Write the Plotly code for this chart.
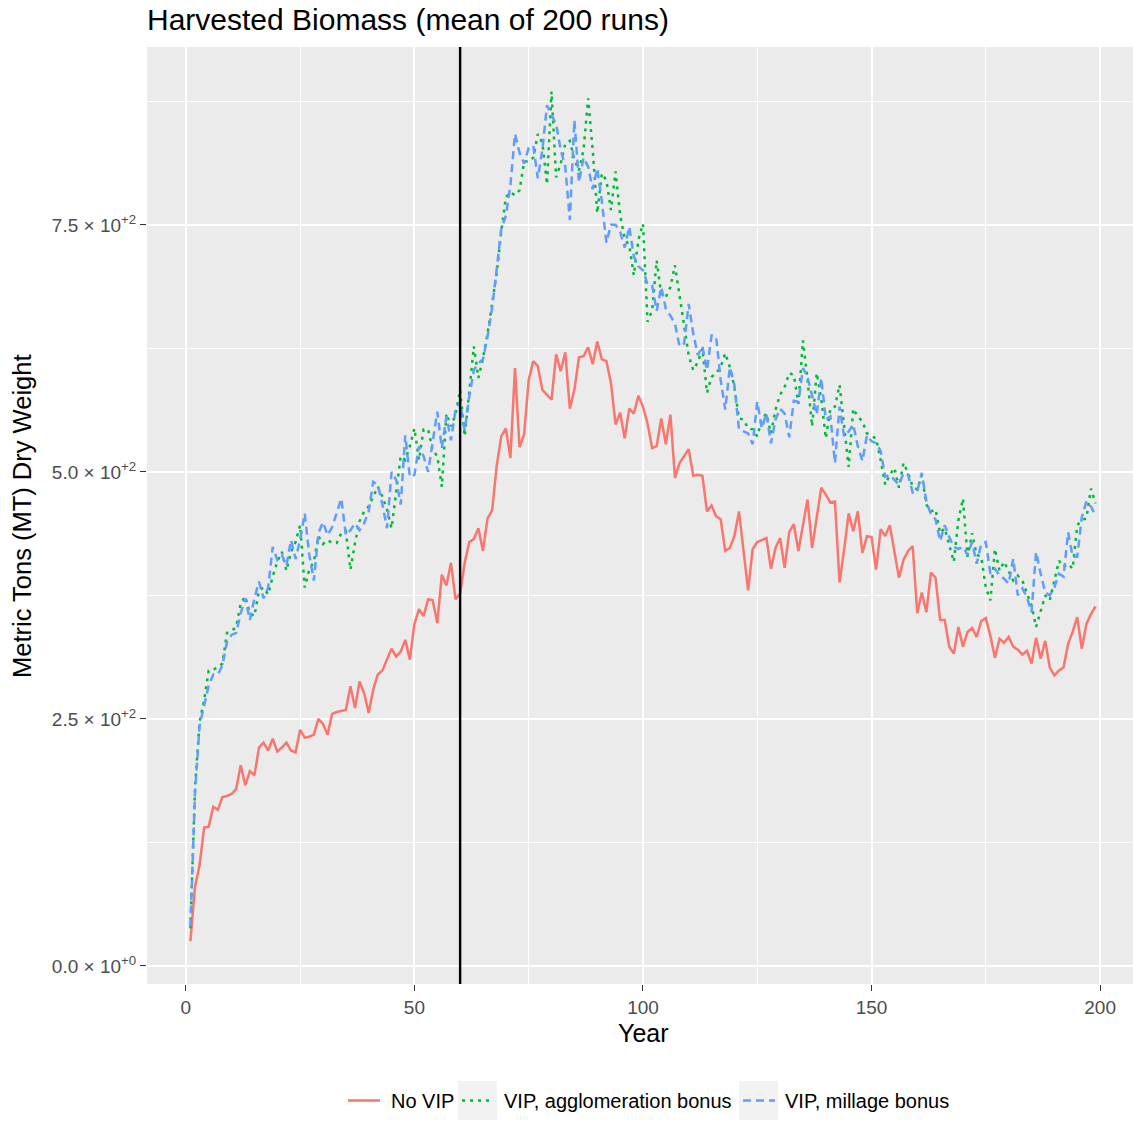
import plotly.graph_objects as go

# Simulation years
years = list(range(1, 200))

# Mean harvested biomass (MT dry weight) per scenario
no_vip = [
    25, 80, 102, 140, 141, 161, 158, 171, 172, 174, 179, 203, 183, 197, 193, 221, 226, 218, 230, 217,
    221, 226, 218, 216, 239, 231, 232, 234, 250, 245, 234, 255, 257, 258, 259, 283, 261, 288, 276, 256,
    280, 295, 299, 310, 321, 313, 318, 330, 310, 346, 361, 354, 371, 370, 347, 396, 385, 408, 371, 377,
    408, 429, 432, 443, 420, 453, 461, 506, 536, 544, 514, 605, 525, 538, 593, 612, 607, 583, 578, 573,
    619, 602, 621, 564, 583, 616, 617, 626, 609, 632, 614, 612, 590, 548, 560, 534, 564, 559, 577, 566,
    549, 524, 526, 554, 528, 558, 494, 509, 516, 523, 496, 497, 496, 460, 466, 455, 452, 420, 423, 435,
    460, 418, 380, 422, 429, 431, 433, 402, 423, 433, 403, 439, 447, 420, 447, 472, 423, 453, 484, 477,
    469, 470, 388, 421, 458, 440, 460, 418, 435, 434, 401, 442, 435, 446, 418, 393, 411, 420, 425, 357,
    378, 358, 398, 393, 350, 350, 323, 316, 343, 323, 338, 342, 333, 349, 352, 334, 312, 331, 327, 333,
    323, 320, 315, 319, 306, 332, 311, 329, 302, 294, 299, 302, 326, 338, 353, 321, 346, 356, 364,
]

vip_agglomeration = [
    38, 180, 247, 269, 299, 300, 302, 306, 337, 339, 343, 367, 374, 357, 354, 380, 383, 376, 394, 409,
    419, 400, 419, 429, 446, 383, 401, 409, 435, 427, 431, 428, 428, 438, 440, 401, 428, 450, 460, 465,
    475, 485, 475, 462, 443, 482, 516, 512, 526, 544, 512, 543, 543, 522, 516, 485, 559, 546, 558, 583,
    536, 581, 627, 595, 615, 640, 673, 701, 743, 778, 783, 780, 785, 814, 814, 818, 842, 833, 791, 885,
    798, 812, 832, 835, 816, 805, 826, 878, 826, 762, 802, 795, 765, 804, 760, 736, 729, 699, 735, 751,
    652, 663, 714, 679, 677, 687, 709, 677, 650, 618, 603, 611, 625, 580, 596, 600, 606, 620, 606, 586,
    554, 553, 544, 543, 536, 553, 559, 539, 563, 578, 586, 600, 598, 569, 633, 593, 546, 600, 574, 534,
    564, 566, 588, 549, 505, 564, 556, 551, 539, 536, 534, 512, 487, 497, 504, 484, 509, 499, 485, 482,
    497, 467, 460, 462, 438, 443, 427, 409, 451, 473, 414, 438, 416, 414, 383, 370, 422, 400, 409, 399,
    390, 395, 390, 377, 365, 343, 360, 375, 370, 390, 410, 404, 407, 402, 446, 451, 453, 483, 468,
]

vip_millage = [
    40, 175, 243, 265, 284, 295, 295, 304, 328, 335, 337, 357, 372, 350, 372, 389, 372, 383, 424, 411,
    416, 405, 431, 412, 431, 458, 416, 390, 438, 449, 436, 444, 458, 473, 436, 441, 448, 441, 448, 460,
    490, 487, 467, 443, 500, 492, 467, 537, 495, 497, 526, 516, 500, 532, 561, 524, 556, 532, 563, 571,
    542, 576, 603, 610, 614, 637, 666, 705, 746, 759, 790, 842, 823, 812, 828, 830, 797, 826, 871, 861,
    852, 826, 809, 755, 856, 793, 818, 809, 786, 807, 774, 732, 750, 750, 743, 727, 748, 718, 708, 704,
    690, 689, 663, 687, 665, 658, 650, 627, 630, 670, 640, 618, 627, 603, 638, 637, 593, 563, 606, 588,
    543, 541, 539, 528, 571, 544, 559, 529, 553, 564, 559, 535, 572, 571, 605, 596, 576, 558, 595, 553,
    556, 509, 566, 536, 541, 548, 526, 511, 537, 531, 529, 521, 495, 497, 492, 487, 499, 497, 479, 480,
    499, 470, 457, 452, 430, 446, 434, 424, 422, 424, 416, 429, 407, 427, 429, 397, 402, 395, 392, 387,
    412, 375, 382, 373, 358, 419, 397, 378, 375, 383, 397, 394, 439, 414, 414, 454, 470, 465, 456,
]

series_names = ["No VIP", "VIP, agglomeration bonus", "VIP, millage bonus"]
series_values = [no_vip, vip_agglomeration, vip_millage]
series_colors = ["#F8766D", "#00BA38", "#619CFF"]
series_dash = ["solid", "3px,5px", "8px,5px"]

policy_year = 60

y_tick_vals = [0, 250, 500, 750]
y_tick_text = ["0.0 × 10<sup>+0</sup>", "2.5 × 10<sup>+2</sup>",
               "5.0 × 10<sup>+2</sup>", "7.5 × 10<sup>+2</sup>"]
x_tick_vals = [0, 50, 100, 150, 200]

W, H = 1133, 1122
ML, MR, MT, MB = 147, 0, 47, 138
PW, PH = W - ML - MR, H - MT - MB


def paper_x(px):
    return (px - ML) / PW


def paper_y(py):
    return (H - MB - py) / PH


fig = go.Figure()
for name, vals, color, dash in zip(series_names, series_values, series_colors, series_dash):
    fig.add_trace(go.Scatter(
        x=years, y=vals, mode="lines", name=name,
        line=dict(color=color, width=2.5, dash=dash),
        showlegend=False,
    ))

fig.add_vline(x=policy_year, line=dict(color="black", width=2.4))

grid = dict(showgrid=True, gridcolor="white", gridwidth=2.2,
            ticks="outside", ticklen=6, tickwidth=1.2, tickcolor="#333333",
            zeroline=False, showline=False,
            tickfont=dict(family="Liberation Sans, Arial, sans-serif", size=19, color="#4D4D4D"))

fig.update_xaxes(range=[-8.5, 207.2], tickvals=x_tick_vals,
                 minor=dict(dtick=25, tick0=0, showgrid=True, gridcolor="white", gridwidth=1.1, ticks=""),
                 **grid)
fig.update_yaxes(range=[-18.3, 930], tickvals=y_tick_vals, ticktext=y_tick_text,
                 minor=dict(dtick=125, tick0=0, showgrid=True, gridcolor="white", gridwidth=1.1, ticks=""),
                 **grid)

font_family = "Liberation Sans, Arial, sans-serif"
annotations = [
    dict(text="Year", x=paper_x(643), y=paper_y(1033), xref="paper", yref="paper",
         showarrow=False, xanchor="center", yanchor="middle",
         font=dict(family=font_family, size=25, color="black")),
    dict(text="Metric Tons (MT) Dry Weight", x=paper_x(22), y=paper_y(516), xref="paper", yref="paper",
         showarrow=False, xanchor="center", yanchor="middle", textangle=-90,
         font=dict(family=font_family, size=25.5, color="black")),
]

# Legend drawn below the panel: grey key boxes with line samples and labels
shapes = []
key_left = [344, 458, 739]
label_left = [389, 502, 783]
key_top, key_bottom, key_mid = 1081, 1120, 1100.5
for name, color, dash, kx, lx in zip(series_names, series_colors, series_dash, key_left, label_left):
    shapes.append(dict(type="rect", xref="paper", yref="paper",
                       x0=paper_x(kx), x1=paper_x(kx + 39), y0=paper_y(key_bottom), y1=paper_y(key_top),
                       fillcolor="#F2F2F2", line=dict(width=0)))
    shapes.append(dict(type="line", xref="paper", yref="paper",
                       x0=paper_x(kx + 4), x1=paper_x(kx + 36), y0=paper_y(key_mid), y1=paper_y(key_mid),
                       line=dict(color=color, width=2.5, dash=dash)))
    annotations.append(dict(text=name, x=paper_x(lx), y=paper_y(key_mid), xref="paper", yref="paper",
                            showarrow=False, xanchor="left", yanchor="middle",
                            font=dict(family=font_family, size=20, color="black")))

fig.update_layout(
    width=W, height=H,
    margin=dict(l=ML, r=MR, t=MT, b=MB, pad=0),
    paper_bgcolor="white", plot_bgcolor="#EBEBEB",
    title=dict(text="Harvested Biomass (mean of 200 runs)", x=ML / W, xanchor="left",
               y=1 - 19 / H, yanchor="middle",
               font=dict(family=font_family, size=30, color="black")),
    annotations=annotations, shapes=shapes,
    showlegend=False,
)

fig.write_html("out.html")
